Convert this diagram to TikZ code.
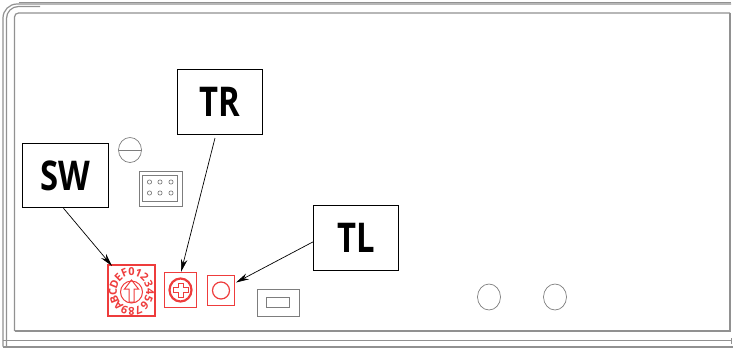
\documentclass[tikz,border=0pt]{standalone}
\usepackage{fontspec}
\usepackage{graphicx}
\setsansfont{Open Sans}
\usetikzlibrary{arrows.meta}
\definecolor{frameg}{RGB}{145,145,145}
\definecolor{partg}{RGB}{125,125,125}
\definecolor{redp}{RGB}{238,60,60}
\newcommand{\lab}[1]{\scalebox{0.8}[1]{#1}}
\tikzset{
  framel/.style={draw=frameg,line width=1.2pt},
  partl/.style={draw=partg,line width=0.7pt},
  redl/.style={draw=redp,line width=1pt},
  labelbox/.style={draw=black,line width=1pt,fill=white,minimum width=85.5pt,minimum height=64.5pt,inner sep=0pt,font=\sffamily\bfseries\fontsize{41}{41}\selectfont},
  redbox/.style={draw=redp,line width=1.4pt,inner sep=0pt},
  pointer/.style={draw=black,line width=0.7pt,-{Stealth[length=13pt,width=6.5pt]}},
  dialch/.style={text=redp,font=\sffamily\bfseries\fontsize{11}{11}\selectfont,inner sep=0pt}
}
\begin{document}
\begin{tikzpicture}[x=1pt,y=-1pt]
\useasboundingbox (0,0) rectangle (733,348);
% casing
\draw[framel,rounded corners=14pt] (3,346.5) -- (3,4) -- (731,4);
\draw[framel,rounded corners=12pt] (6.5,346.5) -- (6.5,6.5) -- (40,6.5);
\draw[framel,line width=0.8pt] (18.5,2) -- (731,2);
\draw[framel,rounded corners=4pt] (14.5,331) -- (14.5,13) -- (730,13);
\draw[framel] (730,13) -- (730,331) -- (14.5,331);
\draw[framel] (3,340.5) -- (731,340.5);
\draw[framel] (3,347) -- (733,347);
\draw[framel,line width=0.6pt] (731,338) -- (731,344);
% parts
\draw[partl] (130,150) circle[x radius=11.5,y radius=12.5];
\draw[partl] (118.5,150) -- (141.5,150);
\draw[partl,line width=0.9pt] (139,171) rectangle (182,206);
\draw[partl] (142.5,175) rectangle (177.5,201.5);
\foreach \x in {149.5,160,171} \foreach \y in {182,193}
  \draw[partl] (\x,\y) circle[radius=2.1];
\draw[partl] (257,289) rectangle (299,316);
\draw[partl,line width=0.9pt] (266,297.5) rectangle (289,307.5);
\draw[partl] (489,297) circle[x radius=11.5,y radius=13];
\draw[partl] (555,297) circle[x radius=11.5,y radius=13];
% red parts
\node[redbox,minimum width=47pt,minimum height=51pt] (dial) at (131.5,290.5) {};
\node[redbox,minimum width=32pt,minimum height=35pt] (trim) at (180.5,290) {};
\node[redbox,minimum width=27pt,minimum height=30pt] (tl) at (221,290.5) {};
\draw[redl] (131.5,292) circle[radius=11];
\draw[redl,line join=miter] (129,302) -- (129,289) -- (124.5,289) -- (131.5,280) -- (138.5,289) -- (134,289) -- (134,302) -- cycle;
\foreach \c [count=\i from 0] in {0,1,2,3,4,5,6,7,8,9,A,B,C,D,E,F}
  \node[dialch,rotate={-22.5*\i}] (ch\i) at ({131.5+18.5*sin(22.5*\i)},{291.5-20*cos(22.5*\i)}) {\c};
\draw[redl,line width=2.2pt] (180.5,290) circle[x radius=11,y radius=11.5];
\draw[redl] (178,283) -- (183,283) -- (183,287.5) -- (188,287.5) -- (188,292.5) -- (183,292.5) -- (183,297) -- (178,297) -- (178,292.5) -- (173,292.5) -- (173,287.5) -- (178,287.5) -- cycle;
\draw[redl,line width=1.2pt] (221,290.5) circle[radius=8.5];
% labels
\node[labelbox] (sw) at (65.5,175.5) {\lab{SW}};
\node[labelbox] (tr) at (220,102) {\lab{TR}};
\node[labelbox] (tlb) at (356,238) {\lab{TL}};
% connectors
\coordinate (swend) at (112,266);
\coordinate (trstart) at (215,138);
\coordinate (trend) at (181,272);
\coordinate (tlend) at (236,282.5);
\draw[pointer] (sw.south) ++(-2,0) -- (swend);
\draw[pointer] (trstart) -- (trend);
\draw[pointer] (tlb.west) ++(0,4) -- (tlend);
\end{tikzpicture}
\end{document}
